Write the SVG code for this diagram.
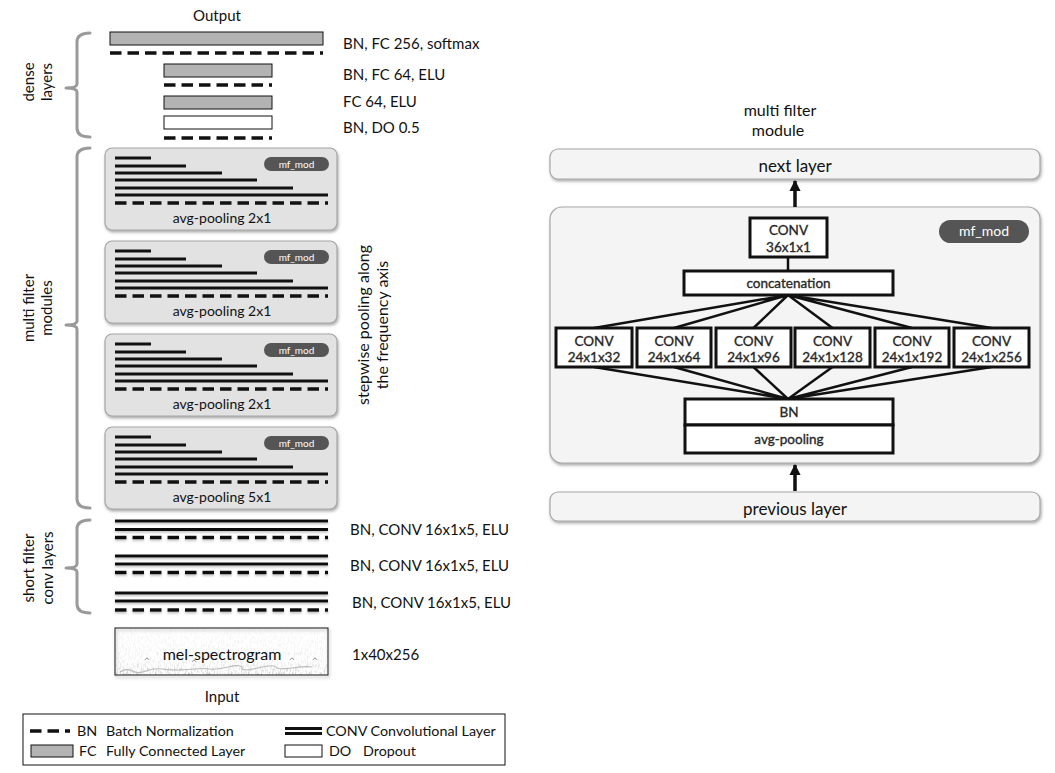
<svg xmlns="http://www.w3.org/2000/svg" width="1055" height="773" viewBox="0 0 1055 773">
<defs>
<style>
text{font-family:Lato,"Open Sans","Liberation Sans",sans-serif;fill:#111}
.lbl{font-size:15px}
.leg{font-size:14.3px}
.mid{text-anchor:middle}
.brace{fill:none;stroke:#9a9a9a;stroke-width:3;stroke-linecap:round;stroke-linejoin:round}
.fc{fill:#b3b3b3;stroke:#111;stroke-width:1}
.do{fill:#fff;stroke:#111;stroke-width:1}
.dash{stroke:#111;stroke-width:3.5;stroke-dasharray:11.5 6;fill:none}
.conv{stroke:#111;stroke-width:3;fill:none}
.mod{fill:#e2e2e2;stroke:#a5a5a5;stroke-width:1.2}
.pill{fill:#555}
.pilltxt{fill:#fff;font-size:10px;text-anchor:middle}
.avg{font-size:14px;text-anchor:middle}
.rbg{fill:#f4f4f4;stroke:#a8a8a8;stroke-width:1.2}
.bx{fill:#fff;stroke:#111;stroke-width:3}
.bt{font-size:13.5px;text-anchor:middle;fill:#222;stroke:#333;stroke-width:0.35}
.link{stroke:#111;stroke-width:2.5;fill:none}
.arrow{stroke:#111;stroke-width:3.5;fill:none}
</style>
<filter id="sh" x="-10%" y="-10%" width="125%" height="130%">
<feDropShadow dx="1" dy="2" stdDeviation="1.5" flood-color="#666" flood-opacity="0.55"/>
</filter>
<filter id="lsh" x="-5%" y="-100%" width="110%" height="400%">
<feDropShadow dx="0" dy="1.5" stdDeviation="1" flood-color="#777" flood-opacity="0.5"/>
</filter>
<filter id="noise" x="0" y="0" width="100%" height="100%">
<feTurbulence type="fractalNoise" baseFrequency="0.7 0.25" numOctaves="2" seed="4"/>
<feColorMatrix type="matrix" values="0 0 0 0 0.4  0 0 0 0 0.4  0 0 0 0 0.4  0 0 0 -2.6 1.45"/>
</filter>
<linearGradient id="fade" x1="0" y1="0" x2="0" y2="1">
<stop offset="0" stop-color="#fff" stop-opacity="0.12"/>
<stop offset="0.7" stop-color="#fff" stop-opacity="0.3"/>
<stop offset="1" stop-color="#fff" stop-opacity="0.9"/>
</linearGradient>
<mask id="melmask"><rect x="115" y="628" width="213" height="47" fill="url(#fade)"/></mask>
<marker id="ah" viewBox="0 0 10 10" refX="9" refY="5" markerWidth="3.2" markerHeight="3.2" orient="auto" markerUnits="strokeWidth">
<path d="M0,0 L10,5 L0,10 z" fill="#111"/>
</marker>
</defs>
<rect width="1055" height="773" fill="#fff"/>

<!-- LEFT: network -->
<text id="output-label" class="lbl mid" x="217" y="21">Output</text>

<g id="dense-layers">
<rect class="fc" x="110" y="32" width="213" height="13"/>
<line class="dash" x1="110" y1="53" x2="323" y2="53"/>
<rect class="fc" x="164" y="64" width="108" height="13"/>
<line class="dash" x1="164" y1="85" x2="272" y2="85"/>
<rect class="fc" x="164" y="96" width="108" height="13"/>
<rect class="do" x="164" y="116" width="108" height="13"/>
<line class="dash" x1="164" y1="138" x2="272" y2="138"/>
<text class="lbl" x="343" y="49">BN, FC 256, softmax</text>
<text class="lbl" x="343" y="80">BN, FC 64, ELU</text>
<text class="lbl" x="343" y="107">FC 64, ELU</text>
<text class="lbl" x="343" y="133">BN, DO 0.5</text>
</g>

<g id="braces">
<path class="brace" d="M90,33 Q77,33 77,42 V84 Q77,88 66,88 Q77,88 77,92 V128 Q77,137 90,137"/>
<path class="brace" d="M90,148 Q77,148 77,157 V321 Q77,325 66,325 Q77,325 77,329 V499 Q77,508 90,508"/>
<path class="brace" d="M90,520 Q77,520 77,529 V564 Q77,568 66,568 Q77,568 77,572 V604 Q77,613 90,613"/>
<text class="lbl mid" transform="translate(34,82) rotate(-90)">dense</text>
<text class="lbl mid" transform="translate(52,82) rotate(-90)">layers</text>
<text class="lbl mid" transform="translate(34,308) rotate(-90)">multi filter</text>
<text class="lbl mid" transform="translate(52,308) rotate(-90)">modules</text>
<text class="lbl mid" transform="translate(34,568) rotate(-90)">short filter</text>
<text class="lbl mid" transform="translate(53,568) rotate(-90)">conv layers</text>
</g>

<g id="mf-module-1" transform="translate(105,148)">
<rect class="mod" x="0" y="0" width="232" height="82" rx="7" filter="url(#sh)"/>
<path class="conv" d="M10,10H46M10,18H81M10,25H117M10,32H152M10,40H188M10,47H223"/>
<line class="dash" x1="10" y1="55" x2="223" y2="55"/>
<rect class="pill" x="159" y="9" width="65" height="14" rx="7"/>
<text class="pilltxt" x="191.5" y="19.8">mf_mod</text>
<text class="avg" x="117" y="75">avg-pooling 2x1</text>
</g>
<g id="mf-module-2" transform="translate(105,241)">
<rect class="mod" x="0" y="0" width="232" height="82" rx="7" filter="url(#sh)"/>
<path class="conv" d="M10,10H46M10,18H81M10,25H117M10,32H152M10,40H188M10,47H223"/>
<line class="dash" x1="10" y1="55" x2="223" y2="55"/>
<rect class="pill" x="159" y="9" width="65" height="14" rx="7"/>
<text class="pilltxt" x="191.5" y="19.8">mf_mod</text>
<text class="avg" x="117" y="75">avg-pooling 2x1</text>
</g>
<g id="mf-module-3" transform="translate(105,334)">
<rect class="mod" x="0" y="0" width="232" height="82" rx="7" filter="url(#sh)"/>
<path class="conv" d="M10,10H46M10,18H81M10,25H117M10,32H152M10,40H188M10,47H223"/>
<line class="dash" x1="10" y1="55" x2="223" y2="55"/>
<rect class="pill" x="159" y="9" width="65" height="14" rx="7"/>
<text class="pilltxt" x="191.5" y="19.8">mf_mod</text>
<text class="avg" x="117" y="75">avg-pooling 2x1</text>
</g>
<g id="mf-module-4" transform="translate(105,427)">
<rect class="mod" x="0" y="0" width="232" height="82" rx="7" filter="url(#sh)"/>
<path class="conv" d="M10,10H46M10,18H81M10,25H117M10,32H152M10,40H188M10,47H223"/>
<line class="dash" x1="10" y1="55" x2="223" y2="55"/>
<rect class="pill" x="159" y="9" width="65" height="14" rx="7"/>
<text class="pilltxt" x="191.5" y="19.8">mf_mod</text>
<text class="avg" x="117" y="75">avg-pooling 5x1</text>
</g>

<g id="stepwise-label">
<text class="lbl mid" style="font-size:16px" transform="translate(369,325) rotate(-90)">stepwise pooling along</text>
<text class="lbl mid" style="font-size:16px" transform="translate(388,325) rotate(-90)">the frequency axis</text>
</g>

<g id="short-conv-layers">
<g filter="url(#lsh)">
<path class="conv" d="M115,521H328M115,529.5H328M115,556H328M115,564H328M115,593H328M115,601H328"/>
<line class="dash" x1="115" y1="537.5" x2="328" y2="537.5"/>
<line class="dash" x1="115" y1="572.5" x2="328" y2="572.5"/>
<line class="dash" x1="115" y1="610" x2="328" y2="610"/>
</g>
<text class="lbl" x="350" y="535">BN, CONV 16x1x5, ELU</text>
<text class="lbl" x="350" y="571">BN, CONV 16x1x5, ELU</text>
<text class="lbl" x="352" y="608">BN, CONV 16x1x5, ELU</text>
</g>

<g id="mel-spectrogram">
<rect x="115" y="628" width="213" height="47" fill="#fff"/>
<rect x="115" y="628" width="213" height="47" filter="url(#noise)" mask="url(#melmask)" opacity="0.8"/>
<path d="M120,672 q6,-4 12,-1 t14,0 t16,-2 t14,1 t18,-1 t16,0 t18,-2 t14,1 t16,0 t18,-1 t16,1 t20,-1" fill="none" stroke="#bbb" stroke-width="1.2"/>
<path d="M145,660 q2,-4 4,0 M192,662 q2,-4 4,0 M290,660 q2,-4 4,0 M313,660 q2,-4 4,0" fill="none" stroke="#999" stroke-width="1"/>
<rect x="115" y="628" width="213" height="47" fill="none" stroke="#111" stroke-width="1" filter="url(#sh)"/>
<text class="mid" style="font-size:16px" x="222" y="660">mel-spectrogram</text>
<text class="lbl" x="352" y="660">1x40x256</text>
</g>

<text id="input-label" class="lbl mid" x="222" y="702">Input</text>

<g id="legend">
<rect x="23" y="714" width="482" height="51" fill="#fff" stroke="#111" stroke-width="1"/>
<line class="dash" x1="30" y1="731" x2="70" y2="731"/>
<text class="leg" x="77" y="736">BN</text>
<text class="leg" x="106" y="736">Batch Normalization</text>
<path d="M285,728.5H322M285,733.5H322" stroke="#111" stroke-width="3"/>
<text class="leg" x="326" y="736">CONV Convolutional Layer</text>
<rect class="fc" x="31" y="745" width="42" height="12"/>
<text class="leg" x="79" y="756">FC</text>
<text class="leg" x="106" y="756">Fully Connected Layer</text>
<rect class="do" x="285" y="745" width="37" height="12"/>
<text class="leg" x="329" y="756">DO</text>
<text class="leg" x="363" y="756">Dropout</text>
</g>

<!-- RIGHT: multi filter module -->
<g id="mfm-title">
<text class="mid" style="font-size:16px" x="780" y="116">multi filter</text>
<text class="mid" style="font-size:16px" x="778" y="136">module</text>
</g>
<g id="next-layer">
<rect class="rbg" x="550" y="149" width="490" height="30" rx="8" filter="url(#sh)"/>
<text class="mid" style="font-size:17px" x="795" y="172">next layer</text>
</g>
<g id="mf-mod-box">
<rect class="rbg" x="550" y="207" width="490" height="256" rx="12" filter="url(#sh)"/>
<rect class="pill" x="939" y="220" width="90" height="23" rx="11.5"/>
<text class="pilltxt" style="font-size:14px" x="984" y="236">mf_mod</text>
</g>
<g id="previous-layer">
<rect class="rbg" x="550" y="492" width="490" height="29" rx="8" filter="url(#sh)"/>
<text class="mid" style="font-size:17px" x="795" y="515">previous layer</text>
</g>

<g id="connectors">
<line class="arrow" x1="795" y1="207" x2="795" y2="181" marker-end="url(#ah)"/>
<line class="arrow" x1="795" y1="491" x2="795" y2="465" marker-end="url(#ah)"/>
<line class="link" x1="788" y1="257" x2="788" y2="271"/>
<path class="link" d="M788,295L594,328M788,295L674,328M788,295L753.5,328M788,295L832.5,328M788,295L912,328M788,295L991.5,328"/>
<path class="link" d="M594,367L788,399M674,367L788,399M753.5,367L788,399M832.5,367L788,399M912,367L788,399M991.5,367L788,399"/>
</g>

<g id="conv-36">
<rect class="bx" x="750" y="218" width="77" height="39"/>
<text class="bt" x="788.5" y="235">CONV</text>
<text class="bt" x="788.5" y="252">36x1x1</text>
</g>
<g id="concatenation">
<rect class="bx" x="684" y="271" width="209" height="24"/>
<text class="bt" x="788.5" y="288">concatenation</text>
</g>
<g id="conv-32">
<rect class="bx" x="556" y="328" width="76" height="39"/>
<text class="bt" x="594" y="346">CONV</text>
<text class="bt" x="594" y="362">24x1x32</text>
</g>
<g id="conv-64">
<rect class="bx" x="637" y="328" width="74" height="39"/>
<text class="bt" x="674" y="346">CONV</text>
<text class="bt" x="674" y="362">24x1x64</text>
</g>
<g id="conv-96">
<rect class="bx" x="716" y="328" width="75" height="39"/>
<text class="bt" x="753.5" y="346">CONV</text>
<text class="bt" x="753.5" y="362">24x1x96</text>
</g>
<g id="conv-128">
<rect class="bx" x="795" y="328" width="75" height="39"/>
<text class="bt" x="832.5" y="346">CONV</text>
<text class="bt" x="832.5" y="362">24x1x128</text>
</g>
<g id="conv-192">
<rect class="bx" x="875" y="328" width="74" height="39"/>
<text class="bt" x="912" y="346">CONV</text>
<text class="bt" x="912" y="362">24x1x192</text>
</g>
<g id="conv-256">
<rect class="bx" x="954" y="328" width="75" height="39"/>
<text class="bt" x="991.5" y="346">CONV</text>
<text class="bt" x="991.5" y="362">24x1x256</text>
</g>
<g id="bn-pool">
<rect class="bx" x="685" y="399" width="208" height="26"/>
<rect class="bx" x="685" y="425" width="208" height="28"/>
<text class="bt" x="789" y="417">BN</text>
<text class="bt" x="789" y="444">avg-pooling</text>
</g>
</svg>
